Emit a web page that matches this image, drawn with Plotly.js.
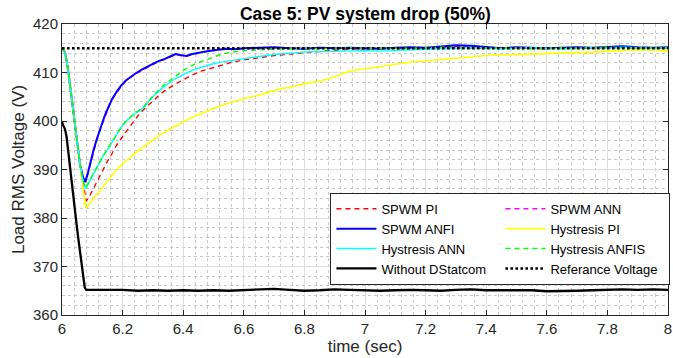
<!DOCTYPE html>
<html>
<head>
<meta charset="utf-8">
<script src="https://cdn.plot.ly/plotly-3.0.1.min.js"></script>
<style>html,body{margin:0;padding:0;background:#fff;}#chart{width:673px;height:358px;}</style>
</head>
<body>
<div id="chart"></div>
<script>
// ---- data ----
const tDrop = [6.000, 6.010, 6.020, 6.030, 6.040, 6.050, 6.060];
const vDrop = [415.0, 414.2, 410.6, 405.6, 399.8, 394.8, 390.8];

const tSteady = [6.80, 6.85, 6.90, 6.95, 7.00, 7.05, 7.10, 7.15, 7.20, 7.25, 7.30, 7.35, 7.40, 7.45, 7.50, 7.55, 7.60, 7.65, 7.70, 7.75, 7.80, 7.85, 7.90, 7.95, 8.00];

// SPWM ANFI (blue)
const tBlue = [6.070, 6.077, 6.085, 6.095, 6.105, 6.115, 6.125, 6.135, 6.145, 6.155, 6.165, 6.180, 6.195, 6.210, 6.225, 6.240, 6.260, 6.280, 6.300, 6.320, 6.340, 6.360, 6.375, 6.390, 6.410, 6.430, 6.450, 6.470, 6.490, 6.510, 6.540, 6.570, 6.600, 6.650, 6.700, 6.750];
const vBlue = [388.3, 387.5, 389.2, 391.8, 394.2, 396.3, 398.3, 400.0, 401.7, 403.2, 404.5, 406.0, 407.3, 408.3, 409.1, 409.7, 410.5, 411.2, 411.8, 412.4, 412.8, 413.4, 413.8, 413.6, 413.4, 413.8, 414.1, 414.3, 414.5, 414.7, 414.9, 414.8, 415.0, 415.1, 415.2, 415.0];
const vBlueSteady = [414.9, 415.1, 415.0, 415.1, 415.0, 414.9, 415.1, 415.2, 415.1, 415.4, 415.6, 415.5, 415.2, 415.0, 415.2, 415.1, 415.0, 415.1, 415.2, 415.1, 415.3, 415.4, 415.2, 415.1, 415.2];

// SPWM ANN (magenta)
const tMag = [6.070, 6.077, 6.085, 6.095, 6.105, 6.115, 6.125, 6.135, 6.145, 6.155, 6.165, 6.180, 6.195, 6.210, 6.225, 6.240, 6.260, 6.280, 6.300, 6.320, 6.340, 6.360, 6.375, 6.390, 6.410, 6.430, 6.450, 6.470, 6.490, 6.510, 6.540, 6.570, 6.600, 6.650, 6.700, 6.750];
const vMag = [388.0, 387.3, 389.0, 391.5, 394.0, 396.1, 398.0, 399.8, 401.5, 403.0, 404.4, 405.8, 407.1, 408.2, 409.0, 409.6, 410.3, 411.0, 411.7, 412.3, 412.7, 413.3, 413.7, 413.5, 413.3, 413.7, 414.0, 414.3, 414.5, 414.6, 414.8, 414.8, 414.9, 415.0, 415.1, 415.0];
const vMagSteady = [415.0, 415.0, 415.1, 415.0, 414.9, 415.0, 415.0, 415.1, 415.0, 415.3, 415.4, 415.3, 415.1, 415.0, 415.1, 415.0, 415.0, 415.0, 415.1, 415.0, 415.2, 415.3, 415.1, 415.0, 415.1];

// SPWM PI (red)
const tRed = [6.070, 6.080, 6.090, 6.105, 6.120, 6.135, 6.150, 6.165, 6.180, 6.200, 6.220, 6.240, 6.260, 6.280, 6.300, 6.320, 6.340, 6.360, 6.380, 6.400, 6.430, 6.460, 6.500, 6.530, 6.560, 6.600, 6.650, 6.700, 6.750];
const vRed = [387.0, 383.5, 384.4, 386.3, 388.2, 390.0, 391.7, 393.3, 395.0, 396.8, 398.6, 400.2, 401.8, 403.0, 404.2, 405.3, 406.3, 407.1, 407.8, 408.5, 409.5, 410.3, 411.0, 411.6, 412.1, 412.6, 413.1, 413.5, 413.8];
const vRedSteady = [414.1, 414.3, 414.6, 414.8, 414.9, 415.0, 414.9, 415.0, 415.0, 415.1, 415.2, 415.1, 415.0, 415.0, 415.1, 415.0, 414.9, 415.0, 415.1, 415.0, 415.1, 415.2, 415.1, 415.0, 415.0];

// Hystresis PI (yellow)
const tYel = [6.070, 6.079, 6.100, 6.125, 6.150, 6.175, 6.200, 6.225, 6.250, 6.275, 6.300, 6.325, 6.350, 6.375, 6.400, 6.425, 6.450, 6.475, 6.500, 6.525, 6.550, 6.575, 6.600, 6.625, 6.650, 6.675, 6.700, 6.725, 6.750, 6.775];
const vYel = [386.0, 382.0, 383.7, 385.8, 387.8, 389.6, 391.2, 392.5, 393.8, 395.0, 396.1, 397.2, 398.1, 399.0, 399.8, 400.6, 401.3, 402.0, 402.6, 403.2, 403.7, 404.2, 404.6, 405.0, 405.3, 405.8, 406.3, 406.7, 406.9, 407.3];
const vYelSteady = [407.7, 408.2, 409.1, 410.3, 410.8, 411.3, 411.7, 412.1, 412.4, 412.7, 413.0, 413.3, 413.5, 413.6, 413.7, 413.8, 413.8, 413.9, 414.0, 414.2, 414.4, 414.6, 414.7, 414.6, 414.4];

// Hystresis ANN (cyan)
const tCyan = [6.070, 6.078, 6.090, 6.105, 6.120, 6.135, 6.150, 6.165, 6.180, 6.195, 6.210, 6.225, 6.240, 6.255, 6.270, 6.285, 6.300, 6.320, 6.340, 6.360, 6.380, 6.400, 6.420, 6.440, 6.460, 6.480, 6.500, 6.530, 6.560, 6.600, 6.650, 6.700, 6.750];
const vCyan = [387.5, 386.0, 387.5, 389.2, 391.1, 392.7, 394.1, 395.7, 397.3, 398.7, 399.9, 400.8, 401.5, 402.1, 402.8, 403.9, 405.0, 406.2, 407.3, 408.2, 408.9, 409.6, 410.2, 410.7, 411.1, 411.5, 411.8, 412.2, 412.5, 412.9, 413.3, 413.7, 414.0];
const vCyanSteady = [414.2, 414.3, 414.4, 414.5, 414.5, 414.4, 414.6, 414.7, 414.8, 414.9, 415.0, 415.1, 415.0, 414.9, 415.0, 415.1, 415.0, 414.9, 415.0, 415.1, 415.0, 415.2, 415.1, 415.0, 415.1];

// Hystresis ANFIS (green)
const tGreen = [6.070, 6.078, 6.090, 6.105, 6.120, 6.135, 6.150, 6.165, 6.180, 6.195, 6.210, 6.225, 6.240, 6.255, 6.270, 6.285, 6.300, 6.320, 6.340, 6.360, 6.380, 6.400, 6.420, 6.440, 6.460, 6.480, 6.500, 6.530, 6.560, 6.600, 6.650, 6.700, 6.750];
const vGreen = [387.6, 386.2, 387.6, 389.3, 391.2, 392.8, 394.2, 395.8, 397.3, 398.7, 399.9, 400.8, 401.6, 402.2, 403.0, 404.1, 405.2, 406.5, 407.6, 408.6, 409.5, 410.4, 411.2, 411.8, 412.3, 412.8, 413.2, 413.8, 414.2, 414.5, 414.7, 414.8, 414.9];
const vGreenSteady = [415.0, 414.9, 415.0, 415.1, 415.0, 415.0, 414.9, 415.0, 415.1, 415.2, 415.1, 415.0, 415.0, 415.1, 415.0, 414.9, 415.0, 415.1, 415.0, 415.1, 415.2, 415.1, 415.0, 415.1, 415.0];

// Without DStatcom (black)
const tBlack = [6.000, 6.002, 6.010, 6.015, 6.020, 6.026, 6.031, 6.037, 6.046, 6.054, 6.061, 6.068, 6.075, 6.080, 6.100, 6.150, 6.200, 6.250, 6.300, 6.350, 6.400, 6.450, 6.500, 6.550, 6.600, 6.650, 6.700, 6.750, 6.800, 6.850, 6.900, 6.950, 7.000, 7.050, 7.100, 7.150, 7.200, 7.250, 7.300, 7.350, 7.400, 7.450, 7.500, 7.550, 7.600, 7.650, 7.700, 7.750, 7.800, 7.850, 7.900, 7.950, 8.000];
const vBlack = [400.0, 399.4, 398.3, 396.8, 394.1, 390.7, 387.6, 383.9, 379.8, 375.7, 372.2, 368.8, 365.7, 365.2, 365.2, 365.1, 365.2, 365.0, 365.1, 365.0, 365.1, 365.0, 365.1, 365.0, 365.1, 365.3, 365.4, 365.2, 365.0, 365.1, 365.3, 365.2, 365.1, 365.0, 365.1, 365.2, 365.1, 365.0, 365.2, 365.3, 365.1, 365.1, 365.0, 365.1, 364.9, 364.9, 365.0, 365.1, 365.2, 365.3, 365.2, 365.3, 365.2];

// Referance Voltage
const tRef = [6.0, 8.0];
const vRef = [415, 415];

const names = ["SPWM PI", "SPWM ANN", "SPWM ANFI", "Hystresis PI", "Hystresis ANN", "Hystresis ANFIS", "Without DStatcom", "Referance Voltage"];
const xTicks = [6, 6.2, 6.4, 6.6, 6.8, 7, 7.2, 7.4, 7.6, 7.8, 8];
const yTicks = [360, 370, 380, 390, 400, 410, 420];

// ---- build ----
function series(tr, vr, vs) {
  return { x: tDrop.concat(tr, tSteady), y: vDrop.concat(vr, vs) };
}
const red = series(tRed, vRed, vRedSteady);
const mag = series(tMag, vMag, vMagSteady);
const blue = series(tBlue, vBlue, vBlueSteady);
const yel = series(tYel, vYel, vYelSteady);
const cyan = series(tCyan, vCyan, vCyanSteady);
const green = series(tGreen, vGreen, vGreenSteady);

const traces = [
  { x: red.x, y: red.y, name: names[0], mode: 'lines', line: { color: '#ff0000', width: 1.4, dash: '5px,4px' } },
  { x: mag.x, y: mag.y, name: names[1], mode: 'lines', line: { color: '#ff00ff', width: 1.4, dash: '5px,4px' } },
  { x: blue.x, y: blue.y, name: names[2], mode: 'lines', line: { color: '#0000ff', width: 2 } },
  { x: yel.x, y: yel.y, name: names[3], mode: 'lines', line: { color: '#ffff00', width: 1.6 } },
  { x: cyan.x, y: cyan.y, name: names[4], mode: 'lines', line: { color: '#00ffff', width: 1.4 } },
  { x: green.x, y: green.y, name: names[5], mode: 'lines', line: { color: '#00ff00', width: 1.4, dash: '5px,4px' } },
  { x: tBlack, y: vBlack, name: names[6], mode: 'lines', line: { color: '#000000', width: 2.3 } },
  { x: tRef, y: vRef, name: names[7], mode: 'lines', line: { color: '#000000', width: 2.6, dash: '2.6px,2.4px' } }
];

const font = 'Liberation Sans, Arial, Helvetica, sans-serif';
const axisCommon = {
  showline: true, linecolor: '#262626', linewidth: 1, mirror: 'ticks',
  ticks: 'inside', ticklen: 5, tickcolor: '#262626', tickwidth: 1,
  showgrid: true, gridcolor: '#dedede', gridwidth: 1,
  zeroline: false, ticklabeloverflow: 'allow',
  tickfont: { family: font, size: 15, color: '#262626' }
};

const layout = {
  width: 673, height: 358,
  margin: { l: 62, r: 5, t: 24, b: 43, autoexpand: false },
  paper_bgcolor: '#ffffff', plot_bgcolor: '#ffffff',
  font: { family: font, color: '#262626' },
  title: { text: '<b>Case 5: PV system drop (50%)</b>', font: { family: font, size: 17.5, color: '#000000' },
           x: 0.543, xanchor: 'center', y: 0.962, yanchor: 'middle' },
  xaxis: Object.assign({}, axisCommon, {
    range: [6, 8], tickvals: xTicks,
    minor: { dtick: 0.04, showgrid: true, gridcolor: '#c8c8c8', griddash: 'dot', gridwidth: 1 },
    title: { text: 'time (sec)', font: { family: font, size: 17, color: '#262626' }, standoff: 1 }
  }),
  yaxis: Object.assign({}, axisCommon, {
    range: [360, 420], tickvals: yTicks,
    minor: { dtick: 2, showgrid: true, gridcolor: '#c8c8c8', griddash: 'dot', gridwidth: 1 },
    title: { text: 'Load RMS Voltage (V)', font: { family: font, size: 17, color: '#262626' }, standoff: 4 }
  }),
  showlegend: true,
  legend: {
    orientation: 'h', x: 1.004, xanchor: 'right', y: 0.42, yanchor: 'top',
    entrywidth: 114, entrywidthmode: 'pixels', itemwidth: 40,
    bgcolor: '#ffffff', bordercolor: '#262626', borderwidth: 1,
    font: { family: font, size: 13, color: '#000000' }
  }
};

Plotly.newPlot('chart', traces, layout, { displayModeBar: false, staticPlot: true });
</script>
</body>
</html>
